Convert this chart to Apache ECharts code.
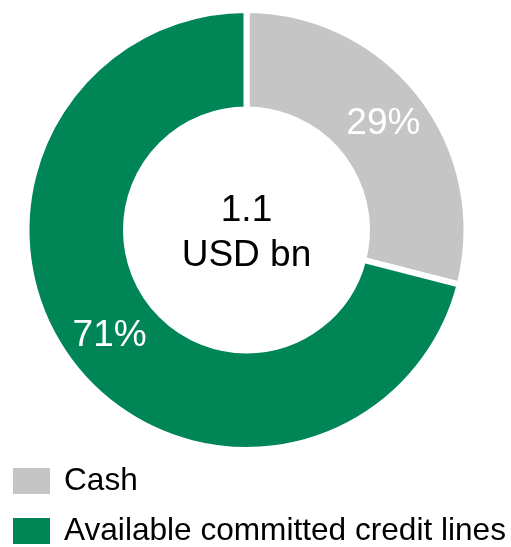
<html>
    <head>
        <meta charset="utf-8">
        <style>
            html, body { margin: 0; padding: 0; background: #fff; }
            #main { width: 511px; height: 547px; }
        </style>
    </head>
    <body>
        <div id="main"></div>
        <script src="https://cdn.jsdelivr.net/npm/echarts@6/dist/echarts.min.js"></script>
        <script>
            var categories = ['Cash', 'Available committed credit lines'];
            var shares = [29, 71];
            var colors = ['#c5c5c5', '#008656'];
            var centerText = ['1.1', 'USD bn'];
            var legendTops = [464, 514];

            var font = '"Liberation Sans", Arial, sans-serif';
            var chart = echarts.init(document.getElementById('main'));

            // one legend per row so the big text never wraps into columns
            var legends = categories.map(function (name, i) {
                return {
                    orient: 'vertical',
                    left: 11,
                    top: legendTops[i],
                    padding: 0,
                    itemWidth: 39,
                    itemHeight: 28,
                    icon: 'rect',
                    selectedMode: false,
                    textStyle: {
                        fontFamily: font,
                        fontSize: 31.6,
                        lineHeight: 28,
                        color: '#000',
                        padding: [6, 0, 0, 8]
                    },
                    data: [name]
                };
            });

            chart.setOption({
                animation: false,
                color: colors,
                legend: legends,
                graphic: [{
                    type: 'text',
                    x: 246.5,
                    y: 233,
                    style: {
                        text: centerText.join('\n'),
                        fontFamily: font,
                        fontSize: 37,
                        lineHeight: 45,
                        fill: '#000',
                        align: 'center',
                        verticalAlign: 'middle'
                    }
                }],
                series: [{
                    type: 'pie',
                    center: [246.5, 230],
                    radius: [120.5, 220],
                    startAngle: 90,
                    clockwise: true,
                    silent: true,
                    itemStyle: {
                        borderColor: '#fff',
                        borderWidth: 6
                    },
                    label: {
                        show: true,
                        position: 'inside',
                        formatter: '{c}%',
                        fontFamily: font,
                        fontSize: 37,
                        color: '#fff'
                    },
                    labelLine: { show: false },
                    data: categories.map(function (name, i) {
                        return { name: name, value: shares[i] };
                    })
                }]
            });

            window.onresize = chart.resize;
        </script>
    </body>
</html>
